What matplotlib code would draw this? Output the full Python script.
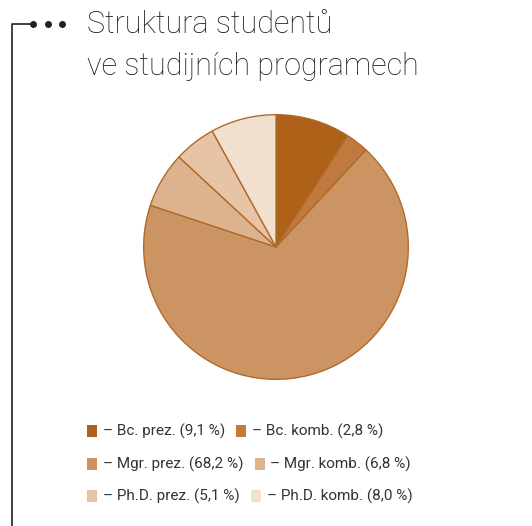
import matplotlib
matplotlib.use("Agg")
import matplotlib.pyplot as plt
from matplotlib.patches import Rectangle

labels = ["Bc. prez.", "Bc. komb.", "Mgr. prez.", "Mgr. komb.", "Ph.D. prez.", "Ph.D. komb."]
values = [9.1, 2.8, 68.2, 6.8, 5.1, 8.0]
colors = ["#ad6119", "#c07a3e", "#cc9463", "#ddb28e", "#e6c4a5", "#f2e0cf"]
title_lines = ["Struktura studentů", "ve studijních programech"]

W, H = 532, 526
fig = plt.figure(figsize=(W / 100, H / 100), dpi=100)
fig.patch.set_facecolor("white")

def px(x, y):
    return x / W, 1 - y / H

# pie
cx, cy, r = 276, 247, 133
ax = fig.add_axes([(cx - r) / W, (H - cy - r) / H, 2 * r / W, 2 * r / H])
ax.pie(values, colors=colors, startangle=90, counterclock=False,
       wedgeprops=dict(edgecolor="#b06a2a", linewidth=1))
ax.set_xlim(-1.005, 1.005)
ax.set_ylim(-1.005, 1.005)
ax.set_aspect("auto")
ax.axis("off")

# frame line and dots
line = plt.Line2D([12 / W, 12 / W, 32 / W], [0, 1 - 24 / H, 1 - 24 / H],
                  transform=fig.transFigure, color="#222222", lw=1.2)
fig.add_artist(line)
for dx in [33, 48, 62]:
    fig.add_artist(plt.Line2D([dx / W], [1 - 24 / H], transform=fig.transFigure,
                              marker="o", ms=4, color="#222222", lw=0))

# title
tfont = dict(family=["Roboto", "DejaVu Sans"], fontweight="light", color="#1a1a1a", fontsize=22)
fig.text(*px(87, 33), title_lines[0], ha="left", va="baseline", **tfont)
fig.text(*px(87, 75), title_lines[1], ha="left", va="baseline", **tfont)

# legend, flowed in rows of two
fig.canvas.draw()
renderer = fig.canvas.get_renderer()
rows_y = [431, 464, 496]
lfont = dict(family=["Roboto", "DejaVu Sans"], color="#333333", fontsize=11)
for i, (lab, val, col) in enumerate(zip(labels, values, colors)):
    row = i // 2
    y = rows_y[row]
    if i % 2 == 0:
        x = 87
    else:
        x = prev_end + 11
    fig.add_artist(Rectangle(px(x, y + 6), 10 / W, 12 / H, transform=fig.transFigure,
                             facecolor=col, edgecolor="none"))
    t = fig.text(*px(x + 16, y), "– %s (%s %%)" % (lab, ("%.1f" % val).replace(".", ",")),
                 ha="left", va="center", **lfont)
    bb = t.get_window_extent(renderer)
    prev_end = bb.x1

fig.savefig("out.png", dpi=100)
